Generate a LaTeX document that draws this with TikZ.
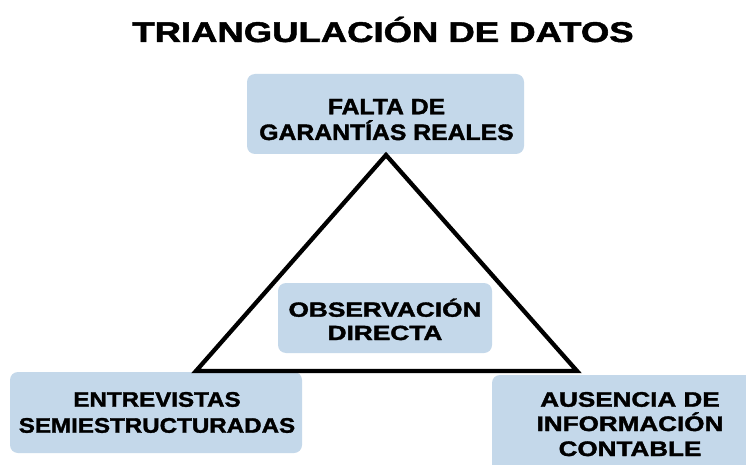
\documentclass[tikz,border=0pt]{standalone}
\usepackage{fontspec}
\setmainfont{Liberation Sans}[BoldFeatures={FakeBold=1.6}]
\definecolor{boxblue}{RGB}{196,216,234}
\newcommand\widetxt[2]{\scalebox{#1}[1]{#2}}
\begin{document}
\begin{tikzpicture}[x=1pt,y=-1pt,
  box/.style={fill=boxblue, rounded corners=8pt, draw=none},
  lbl/.style={anchor=base, text=black, inner sep=0pt},
  ftop/.style={font=\bfseries\fontsize{22.3}{26}\selectfont},
  fmid/.style={font=\bfseries\fontsize{20.5}{24}\selectfont},
  fside/.style={font=\bfseries\fontsize{21}{25}\selectfont}]
\clip (0,0) rectangle (746,465);
\fill[white] (0,0) rectangle (746,465);
\node[lbl, font=\bfseries\fontsize{28.5}{32}\selectfont] (title) at (383,42) {\widetxt{1.28}{TRIANGULACIÓN DE DATOS}};
% boxes
\node[box, minimum width=277pt, minimum height=80pt] (top) at (385.5,114) {};
\node[box, minimum width=214pt, minimum height=70pt] (mid) at (385,318) {};
\node[box, minimum width=292pt, minimum height=81pt] (left) at (156,412.5) {};
\node[box, minimum width=290pt, minimum height=100pt] (right) at (637,425) {};
% triangle
\coordinate (apex) at (386,155);
\coordinate (bl) at (196,371);
\coordinate (br) at (577,371);
\draw[line width=4.3pt, line join=miter] (apex) -- (br) -- (bl) -- cycle;
% labels
\node[lbl, ftop] (top1) at (386.5,114.3) {\widetxt{1.11}{FALTA DE}};
\node[lbl, ftop] (top2) at (386.5,140) {\widetxt{1.11}{GARANTÍAS REALES}};
\node[lbl, fmid] (mid1) at (385,316.7) {\widetxt{1.28}{OBSERVACIÓN}};
\node[lbl, fmid] (mid2) at (385,340) {\widetxt{1.28}{DIRECTA}};
\node[lbl, fside] (left1) at (157,406.7) {\widetxt{1.15}{ENTREVISTAS}};
\node[lbl, fside] (left2) at (157,432.7) {\widetxt{1.15}{SEMIESTRUCTURADAS}};
\node[lbl, fside] (right1) at (630,406.7) {\widetxt{1.24}{AUSENCIA DE}};
\node[lbl, fside] (right2) at (630,431) {\widetxt{1.24}{INFORMACIÓN}};
\node[lbl, fside] (right3) at (630,456) {\widetxt{1.24}{CONTABLE}};
\end{tikzpicture}
\end{document}
